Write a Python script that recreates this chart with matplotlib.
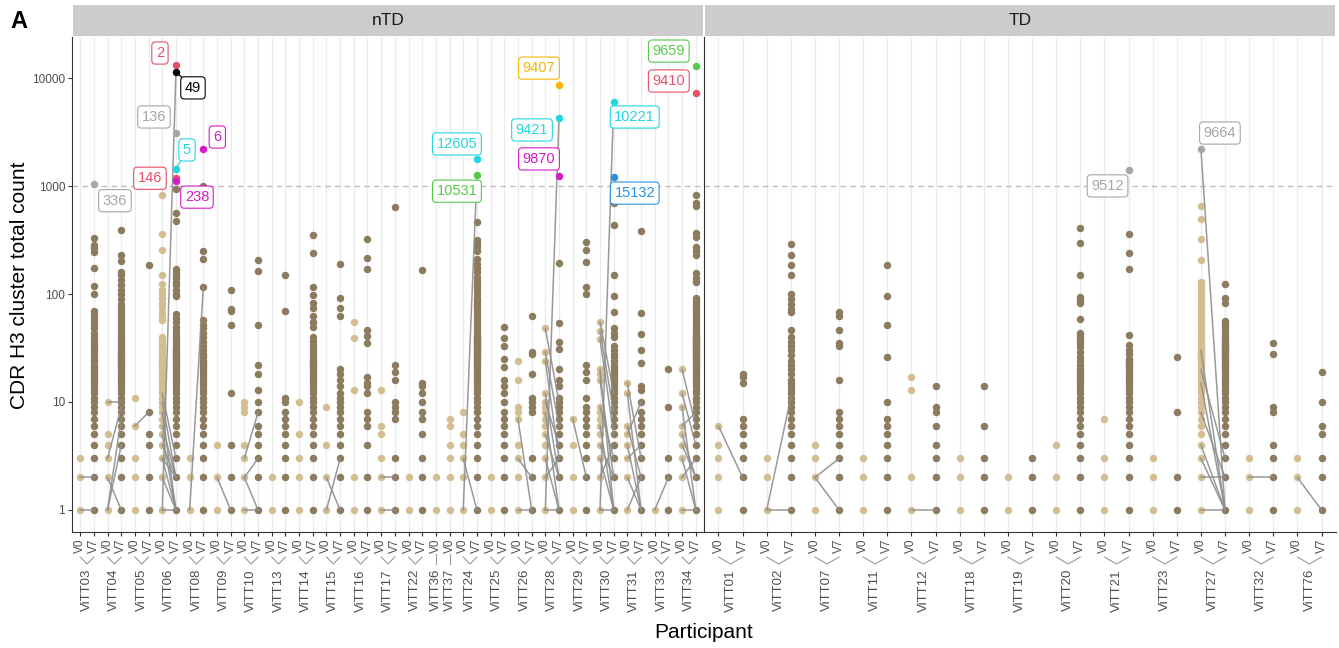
import matplotlib
matplotlib.use("Agg")
import matplotlib.pyplot as plt
from matplotlib.patches import Rectangle
from matplotlib.transforms import blended_transform_factory

plt.rcParams['font.family'] = ['Liberation Sans', 'DejaVu Sans']

# participants per facet
ntd_participants = ["ViTT03", "ViTT04", "ViTT05", "ViTT06", "ViTT08", "ViTT09", "ViTT10",
                    "ViTT13", "ViTT14", "ViTT15", "ViTT16", "ViTT17", "ViTT22", "ViTT36",
                    "ViTT37", "ViTT24", "ViTT25", "ViTT26", "ViTT28", "ViTT29", "ViTT30",
                    "ViTT31", "ViTT33", "ViTT34"]
td_participants = ["ViTT01", "ViTT02", "ViTT07", "ViTT11", "ViTT12", "ViTT18", "ViTT19",
                   "ViTT20", "ViTT21", "ViTT23", "ViTT27", "ViTT32", "ViTT76"]
single_visit = ["ViTT36", "ViTT37"]

# cluster total counts, V0 visit
v0_counts = {
    "ViTT03": [1, 2, 3],
    "ViTT04": [1, 2, 3, 4, 5, 10],
    "ViTT05": [1, 2, 3, 6, 11],
    "ViTT06": [1, 2, 3, 4, 5, 6, 7, 8, 9, 10, 11, 12, 13, 14, 15, 16, 17, 18, 19, 20, 21, 22,
               23, 24, 25, 26, 27, 28, 30, 32, 34, 36, 38, 40, 57, 62, 68, 75, 82, 91, 101,
               110, 125, 150, 255, 360, 830],
    "ViTT08": [1, 2, 3],
    "ViTT09": [1, 2, 4],
    "ViTT10": [1, 2, 3, 4, 8, 9, 10],
    "ViTT13": [1, 2],
    "ViTT14": [1, 2, 3, 5, 10],
    "ViTT15": [1, 2, 4, 9],
    "ViTT16": [1, 2, 13, 39, 55],
    "ViTT17": [1, 2, 3, 5, 6, 13],
    "ViTT22": [1, 2],
    "ViTT36": [1, 2],
    "ViTT37": [1, 2, 3, 4, 6, 7],
    "ViTT24": [1, 2, 3, 4, 5, 8],
    "ViTT25": [1, 2],
    "ViTT26": [1, 2, 3, 4, 7, 8, 9, 16, 24],
    "ViTT28": [1, 2, 3, 4, 5, 6, 7, 8, 9, 10, 12, 24, 29, 48],
    "ViTT29": [1, 2, 4, 7],
    "ViTT30": [1, 2, 3, 4, 5, 6, 7, 8, 9, 16, 18, 20, 38, 45, 55],
    "ViTT31": [1, 2, 3, 4, 5, 6, 12, 15],
    "ViTT33": [1],
    "ViTT34": [1, 2, 3, 4, 5, 6, 9, 12, 20],
    "ViTT01": [1, 2, 3, 4, 6],
    "ViTT02": [1, 2, 3],
    "ViTT07": [1, 2, 3, 4],
    "ViTT11": [1, 2, 3],
    "ViTT12": [1, 2, 13, 17],
    "ViTT18": [1, 2, 3],
    "ViTT19": [1, 2],
    "ViTT20": [1, 2, 4],
    "ViTT21": [1, 2, 3, 7],
    "ViTT23": [1, 2, 3],
    "ViTT27": [1, 2, 3, 4, 5, 6, 7, 8, 9, 10, 11, 12, 13, 14, 15, 16, 17, 18, 19, 20, 21, 22,
               23, 24, 25, 26, 27, 28, 29, 30, 32, 34, 36, 38, 40, 43, 46, 50, 54, 58, 62, 66,
               70, 75, 80, 86, 92, 100, 108, 116, 124, 130, 206, 325, 490, 650],
    "ViTT32": [1, 2, 3],
    "ViTT76": [1, 2, 3],
}

# cluster total counts, V7 visit
v7_counts = {
    "ViTT03": [1, 2, 3, 4, 5, 6, 7, 8, 9, 10, 11, 12, 13, 14, 15, 16, 17, 18, 19, 20, 21, 22,
               24, 25, 27, 29, 31, 33, 35, 38, 41, 44, 48, 52, 56, 60, 65, 70, 101, 118, 175,
               245, 265, 285, 330],
    "ViTT04": [1, 2, 3, 4, 5, 6, 7, 8, 9, 10, 11, 12, 13, 14, 15, 16, 17, 18, 19, 20, 21, 22,
               23, 24, 25, 26, 27, 28, 29, 30, 32, 34, 36, 38, 40, 42, 45, 48, 52, 56, 60, 65,
               70, 75, 80, 90, 100, 110, 120, 135, 150, 160, 200, 230, 390],
    "ViTT05": [1, 2, 4, 5, 8, 185],
    "ViTT06": [1, 2, 3, 4, 5, 6, 7, 8, 9, 10, 11, 12, 13, 14, 15, 16, 17, 18, 19, 20, 21, 22,
               23, 24, 25, 26, 27, 28, 29, 30, 32, 34, 36, 38, 40, 43, 46, 50, 55, 60, 65, 95,
               101, 110, 120, 130, 140, 150, 160, 172, 470, 560, 930],
    "ViTT08": [1, 2, 3, 4, 5, 6, 7, 8, 9, 10, 11, 12, 13, 14, 15, 16, 17, 18, 19, 20, 21, 22,
               23, 24, 26, 28, 30, 33, 36, 40, 44, 48, 52, 57, 117, 210, 250, 1000],
    "ViTT09": [1, 2, 4, 12, 52, 69, 73, 110],
    "ViTT10": [1, 2, 3, 4, 5, 6, 8, 10, 13, 18, 22, 52, 164, 205],
    "ViTT13": [1, 2, 3, 4, 5, 6, 7, 8, 10, 11, 70, 150],
    "ViTT14": [1, 2, 3, 4, 5, 6, 7, 8, 9, 10, 11, 12, 13, 14, 15, 16, 17, 18, 19, 20, 21, 22,
               23, 24, 25, 27, 29, 31, 34, 37, 40, 50, 55, 63, 74, 82, 98, 117, 240, 350],
    "ViTT15": [1, 2, 3, 4, 5, 6, 7, 8, 9, 10, 11, 12, 14, 16, 18, 20, 62, 74, 91, 188],
    "ViTT16": [1, 2, 4, 6, 7, 8, 12, 14, 15, 17, 35, 41, 46, 172, 215, 320],
    "ViTT17": [1, 2, 3, 7, 8, 9, 10, 16, 19, 22, 640],
    "ViTT22": [1, 2, 3, 5, 7, 8, 10, 12, 14, 15, 167],
    "ViTT24": [1, 2, 3, 4, 5, 6, 7, 8, 9, 10, 11, 12, 13, 14, 15, 16, 17, 18, 19, 20, 21, 22,
               23, 24, 25, 26, 27, 28, 29, 30, 31, 32, 33, 34, 35, 36, 37, 38, 39, 40, 42, 45,
               48, 52, 56, 60, 65, 70, 75, 80, 86, 92, 100, 108, 116, 125, 135, 145, 160, 175,
               190, 210, 250, 275, 290, 315, 460],
    "ViTT25": [1, 2, 3, 4, 5, 6, 7, 8, 10, 12, 14, 16, 21, 25, 33, 39, 50],
    "ViTT26": [1, 2, 3, 8, 9, 10, 11, 18, 28, 29, 62],
    "ViTT28": [1, 2, 3, 4, 5, 6, 7, 8, 9, 10, 11, 14, 16, 20, 31, 36, 54, 195],
    "ViTT29": [1, 2, 3, 4, 5, 6, 7, 8, 9, 11, 16, 19, 22, 101, 117, 199, 255, 300],
    "ViTT30": [1, 2, 3, 4, 5, 6, 7, 8, 9, 10, 11, 12, 13, 14, 15, 16, 17, 18, 19, 20, 21, 22,
               24, 26, 28, 30, 33, 40, 44, 48, 68, 95, 150, 435, 700],
    "ViTT31": [1, 2, 3, 4, 5, 6, 7, 8, 10, 13, 14, 23, 30, 43, 67, 385],
    "ViTT33": [1, 2, 3, 9, 20],
    "ViTT34": [1, 2, 3, 4, 5, 6, 7, 8, 9, 10, 11, 12, 13, 14, 15, 16, 17, 18, 19, 20, 21, 22,
               23, 24, 25, 26, 27, 28, 29, 30, 31, 32, 33, 34, 35, 36, 37, 38, 39, 40, 42, 45,
               48, 52, 56, 60, 65, 70, 75, 80, 86, 92, 130, 140, 155, 230, 250, 270, 340, 370,
               660, 700, 830],
    "ViTT01": [1, 2, 3, 4, 5, 6, 7, 15, 17, 18],
    "ViTT02": [1, 2, 3, 4, 5, 6, 7, 8, 9, 10, 11, 12, 13, 14, 15, 16, 18, 20, 22, 24, 27, 30,
               33, 36, 40, 46, 68, 72, 80, 90, 100, 150, 186, 229, 288],
    "ViTT07": [1, 2, 3, 4, 5, 6, 7, 8, 16, 33, 35, 46, 62, 68],
    "ViTT11": [1, 2, 3, 4, 5, 6, 7, 10, 26, 52, 96, 184],
    "ViTT12": [1, 2, 3, 4, 6, 8, 9, 14],
    "ViTT18": [1, 2, 3, 6, 14],
    "ViTT19": [1, 2, 3],
    "ViTT20": [1, 2, 3, 4, 5, 6, 7, 8, 9, 10, 11, 12, 13, 14, 15, 16, 17, 18, 19, 20, 22, 24,
               26, 29, 32, 35, 38, 41, 44, 59, 82, 88, 94, 150, 295, 407],
    "ViTT21": [1, 2, 3, 4, 5, 6, 7, 8, 9, 10, 11, 12, 13, 14, 15, 16, 17, 18, 19, 20, 21, 22,
               23, 24, 25, 28, 30, 34, 42, 172, 240, 363],
    "ViTT23": [1, 2, 8, 26],
    "ViTT27": [1, 2, 3, 4, 5, 6, 7, 8, 9, 10, 11, 12, 13, 14, 15, 16, 17, 18, 19, 20, 21, 22,
               23, 24, 25, 26, 27, 28, 29, 30, 31, 32, 33, 34, 35, 36, 38, 40, 43, 46, 50, 53,
               56, 82, 91, 123],
    "ViTT32": [1, 2, 3, 4, 8, 9, 28, 35],
    "ViTT76": [1, 2, 3, 5, 6, 10, 19],
}

# same clone seen at both visits: (V0 count, V7 count)
links = {
    "ViTT03": [(1, 1), (2, 2)],
    "ViTT04": [(10, 10), (1, 7), (1, 4), (3, 9), (2, 1)],
    "ViTT05": [(6, 8)],
    "ViTT06": [(1, 11400), (1, 1), (2, 1), (3, 1), (4, 2), (5, 1), (6, 2), (8, 1), (10, 2),
               (12, 3), (3, 2)],
    "ViTT08": [(1, 117)],
    "ViTT09": [(2, 1)],
    "ViTT10": [(3, 8), (2, 3), (2, 1), (1, 1)],
    "ViTT15": [(1, 3), (2, 1)],
    "ViTT17": [(1, 1), (2, 2)],
    "ViTT24": [(1, 1260), (3, 1)],
    "ViTT26": [(1, 1), (7, 1), (3, 2)],
    "ViTT28": [(1, 4270), (1, 1), (2, 3), (3, 1), (5, 2), (8, 1), (10, 4), (24, 3), (29, 6),
               (48, 10), (12, 2)],
    "ViTT29": [(7, 2)],
    "ViTT30": [(1, 6000), (1, 1), (2, 4), (3, 1), (4, 2), (6, 1), (9, 3), (16, 2), (20, 1),
               (38, 5), (45, 8), (55, 12)],
    "ViTT31": [(1, 2), (2, 1), (3, 4), (4, 1), (6, 2), (12, 1), (15, 3), (5, 10)],
    "ViTT33": [(1, 2)],
    "ViTT34": [(1, 1), (2, 3), (3, 1), (5, 2), (6, 8), (9, 1), (12, 4), (20, 6), (4, 2)],
    "ViTT01": [(6, 2)],
    "ViTT02": [(1, 1), (1, 11)],
    "ViTT07": [(2, 1), (2, 3)],
    "ViTT12": [(1, 1)],
    "ViTT27": [(2200, 1), (1, 1), (2, 2), (3, 1), (4, 1), (8, 2), (15, 1), (20, 3), (30, 1)],
    "ViTT32": [(2, 2)],
    "ViTT76": [(2, 1)],
}

# highlighted clusters
hl_participant = ["ViTT03", "ViTT06", "ViTT06", "ViTT06", "ViTT06", "ViTT06", "ViTT06",
                  "ViTT08", "ViTT24", "ViTT24", "ViTT28", "ViTT28", "ViTT28", "ViTT30",
                  "ViTT30", "ViTT34", "ViTT34", "ViTT27", "ViTT21"]
hl_visit = ["V7", "V7", "V7", "V7", "V7", "V7", "V7", "V7", "V7", "V7", "V7", "V7", "V7",
            "V7", "V7", "V7", "V7", "V0", "V7"]
hl_value = [1050, 13200, 11400, 3100, 1440, 1180, 1110, 2200, 1780, 1260, 8600, 4270, 1240,
            6000, 1210, 12900, 7270, 2200, 1410]
hl_label = ["336", "2", "49", "136", "5", "146", "238", "6", "12605", "10531", "9407", "9421",
            "9870", "10221", "15132", "9659", "9410", "9664", "9512"]
hl_color = ["#A6A6A6", "#E4506A", "#000000", "#A6A6A6", "#22D6E0", "#E4506A", "#D21CC8",
            "#D21CC8", "#22D6E0", "#55C94A", "#F2B705", "#22D6E0", "#D21CC8", "#22D6E0",
            "#2A90E4", "#55C94A", "#E4506A", "#A6A6A6", "#A6A6A6"]
# label placement relative to its point (pixels) and whether a segment is drawn
hl_offset = [(21, -17), (-16, 12), (17, -16), (-22, 16), (11, 19), (-26, 0), (21, -16),
             (14, 12), (-20, 15), (-20, -16), (-20, 17), (-27, -12), (-20, 17), (21, -15),
             (21, -16), (-27, 15), (-27, 12), (19, 16), (-21, -16)]
hl_segment = ["49", "5"]

V0_COLOR = "#D3BD93"
V7_COLOR = "#8C7B5E"
W, H = 1339, 648

fig = plt.figure(figsize=(W / 100, H / 100), dpi=100)

def fx(px):
    return px / W

def fy(py):
    return 1 - py / H

panel_top, panel_bot = 37, 532
panels = [("nTD", ntd_participants, 72, 704), ("TD", td_participants, 704, 1336)]

for k, (name, parts, x0, x1) in enumerate(panels):
    ax = fig.add_axes([fx(x0), fy(panel_bot), fx(x1 - x0), (panel_bot - panel_top) / H])
    cols = []
    for p in parts:
        cols.append((p, "V0"))
        if p not in single_visit:
            cols.append((p, "V7"))
    xpos = {c: i + 1 for i, c in enumerate(cols)}

    for i in range(len(cols)):
        ax.axvline(i + 1, color="#EBEBEB", lw=1, zorder=0)
    ax.axhline(1000, color="#BDBDBD", lw=1, ls=(0, (4, 3)), zorder=1)

    for p in parts:
        xs = [xpos[(p, "V0")]] * len(v0_counts[p])
        ax.scatter(xs, v0_counts[p], s=29, color=V0_COLOR, linewidths=0, zorder=3)
        if (p, "V7") in xpos:
            xs = [xpos[(p, "V7")]] * len(v7_counts[p])
            ax.scatter(xs, v7_counts[p], s=29, color=V7_COLOR, linewidths=0, zorder=3)
        for a, b in links.get(p, []):
            ax.plot([xpos[(p, "V0")], xpos[(p, "V7")]], [a, b], color="#8E8E8E",
                    lw=1.1, alpha=0.9, zorder=4)

    for p, vis, val, lab, col, off in zip(hl_participant, hl_visit, hl_value, hl_label,
                                          hl_color, hl_offset):
        if p not in parts:
            continue
        xp = xpos[(p, vis)]
        ax.scatter([xp], [val], s=29, color=col, linewidths=0, zorder=5)
        arrow = None
        if lab in hl_segment:
            arrow = dict(arrowstyle="-", color=col, lw=0.9, shrinkA=0, shrinkB=2)
        ax.annotate(lab, xy=(xp, val), xytext=off, textcoords="offset pixels",
                    ha="center", va="center", fontsize=10.5, color=col, zorder=6,
                    bbox=dict(boxstyle="round,pad=0.28,rounding_size=0.25", fc="white",
                              ec=col, lw=0.8),
                    arrowprops=arrow)

    ax.set_yscale("log")
    ax.set_ylim(10 ** -0.204, 10 ** 4.38)
    ax.set_xlim(0.4, len(cols) + 0.6)
    ax.set_xticks(range(1, len(cols) + 1))
    ax.set_xticklabels([v for _, v in cols], rotation=90, fontsize=8.5, color="#4D4D4D")
    ax.minorticks_off()
    ax.tick_params(axis="x", length=3, width=0.8, color="#333333", pad=2)
    for s in ["top", "right"]:
        ax.spines[s].set_visible(False)
    for s in ["left", "bottom"]:
        ax.spines[s].set_color("#333333")
        ax.spines[s].set_linewidth(0.8)
    if k == 0:
        ax.set_yticks([1, 10, 100, 1000, 10000])
        ax.set_yticklabels(["1", "10", "100", "1000", "10000"], fontsize=8.5,
                           color="#4D4D4D")
        ax.tick_params(axis="y", length=3, width=0.8, color="#333333", pad=2)
    else:
        ax.set_yticks([])
    ax.patch.set_alpha(0)

    # nested participant labels under the visit ticks
    tr = blended_transform_factory(ax.transData, fig.transFigure)
    for p in parts:
        if (p, "V7") in xpos:
            a, b = xpos[(p, "V0")], xpos[(p, "V7")]
            mid = (a + b) / 2
            ax.plot([a, mid, b], [fy(557), fy(564), fy(557)], transform=tr,
                    color="#9A9A9A", lw=0.8, clip_on=False)
        else:
            mid = xpos[(p, "V0")]
            ax.plot([mid, mid], [fy(554), fy(564)], transform=tr, color="#9A9A9A",
                    lw=0.8, clip_on=False)
        ax.text(mid, fy(569), p, transform=tr, rotation=90, ha="center", va="top",
                fontsize=9.5, color="#4D4D4D")

    # facet strip
    fig.add_artist(Rectangle((fx(x0 + 1), fy(36)), fx(x1 - x0 - 2), 31 / H,
                             transform=fig.transFigure, fc="#CCCCCC", ec="none"))
    fig.text(fx((x0 + x1) / 2), fy(20.5), name, ha="center", va="center", fontsize=12.5,
             color="#1A1A1A")

fig.text(fx(704), fy(632), "Participant", ha="center", va="center", fontsize=15)
fig.text(fx(20), fy(285), "CDR H3 cluster total count", ha="center", va="center",
         rotation=90, fontsize=15)
fig.text(fx(10), fy(21), "A", ha="left", va="center", fontsize=17, fontweight="bold")

fig.savefig("out.png", dpi=100)
